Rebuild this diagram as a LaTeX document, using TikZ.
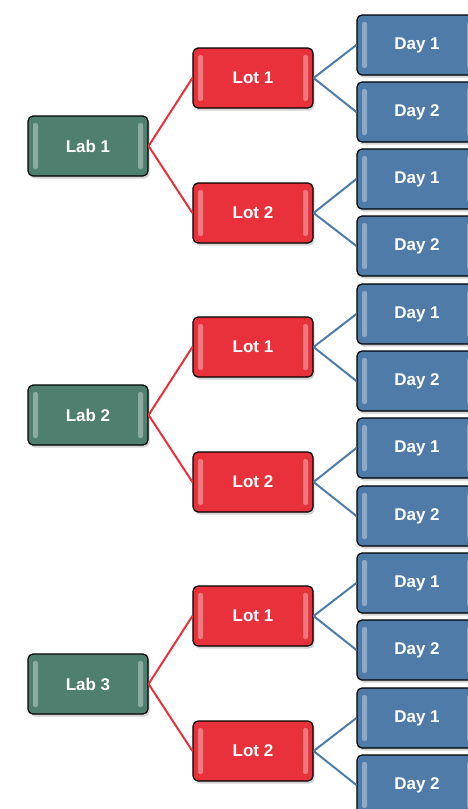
\documentclass[tikz,border=0pt]{standalone}
\usepackage{fontspec}
\setmainfont{Liberation Sans}
\usepackage{tikz}
\usetikzlibrary{shadows}
\definecolor{labgreen}{HTML}{4F7F6F}
\definecolor{lotred}{HTML}{E8313B}
\definecolor{dayblue}{HTML}{4F7BA9}
\tikzstyle{box} = [rectangle, rounded corners=5pt, draw=black, line width=1.2pt,
    minimum width=120pt, minimum height=60pt, inner sep=0pt, text=white,
    font=\fontsize{17}{20}\selectfont\bfseries,
    drop shadow={opacity=0.35, shadow xshift=1.5pt, shadow yshift=-2.5pt},
    path picture={
        \fill[white, opacity=0.35, rounded corners=2pt]
            ([xshift=5pt, yshift=-7pt]path picture bounding box.north west) rectangle
            ([xshift=10pt, yshift=7pt]path picture bounding box.south west);
        \fill[white, opacity=0.35, rounded corners=2pt]
            ([xshift=-5pt, yshift=-7pt]path picture bounding box.north east) rectangle
            ([xshift=-10pt, yshift=7pt]path picture bounding box.south east);
    }]
\tikzstyle{lab} = [box, fill=labgreen]
\tikzstyle{lot} = [box, fill=lotred]
\tikzstyle{day} = [box, fill=dayblue]
\tikzstyle{redline} = [draw=lotred, line width=2pt]
\tikzstyle{blueline} = [draw=dayblue, line width=2pt]

\begin{document}
\begin{tikzpicture}[x=1pt, y=-1pt]
        \useasboundingbox (0,0) rectangle (468,809);
        % labs
        \node (lab1) [lab] at (88,146) {Lab 1};
        \node (lab2) [lab] at (88,415) {Lab 2};
        \node (lab3) [lab] at (88,684) {Lab 3};
        % lots
        \node (lot11) [lot] at (253,78) {Lot 1};
        \node (lot12) [lot] at (253,213) {Lot 2};
        \node (lot21) [lot] at (253,347) {Lot 1};
        \node (lot22) [lot] at (253,482) {Lot 2};
        \node (lot31) [lot] at (253,616) {Lot 1};
        \node (lot32) [lot] at (253,751) {Lot 2};
        % days
        \node (day111) [day] at (417,45) {Day 1};
        \node (day112) [day] at (417,112) {Day 2};
        \node (day121) [day] at (417,179) {Day 1};
        \node (day122) [day] at (417,246) {Day 2};
        \node (day211) [day] at (417,314) {Day 1};
        \node (day212) [day] at (417,381) {Day 2};
        \node (day221) [day] at (417,448) {Day 1};
        \node (day222) [day] at (417,516) {Day 2};
        \node (day311) [day] at (417,583) {Day 1};
        \node (day312) [day] at (417,650) {Day 2};
        \node (day321) [day] at (417,718) {Day 1};
        \node (day322) [day] at (417,785) {Day 2};
        % lab to lot
        \draw [redline] (lab1.east) -- (lot11.west);
        \draw [redline] (lab1.east) -- (lot12.west);
        \draw [redline] (lab2.east) -- (lot21.west);
        \draw [redline] (lab2.east) -- (lot22.west);
        \draw [redline] (lab3.east) -- (lot31.west);
        \draw [redline] (lab3.east) -- (lot32.west);
        % lot to day
        \draw [blueline] (lot11.east) -- (day111.west);
        \draw [blueline] (lot11.east) -- (day112.west);
        \draw [blueline] (lot12.east) -- (day121.west);
        \draw [blueline] (lot12.east) -- (day122.west);
        \draw [blueline] (lot21.east) -- (day211.west);
        \draw [blueline] (lot21.east) -- (day212.west);
        \draw [blueline] (lot22.east) -- (day221.west);
        \draw [blueline] (lot22.east) -- (day222.west);
        \draw [blueline] (lot31.east) -- (day311.west);
        \draw [blueline] (lot31.east) -- (day312.west);
        \draw [blueline] (lot32.east) -- (day321.west);
        \draw [blueline] (lot32.east) -- (day322.west);
    \end{tikzpicture}
\end{document}
